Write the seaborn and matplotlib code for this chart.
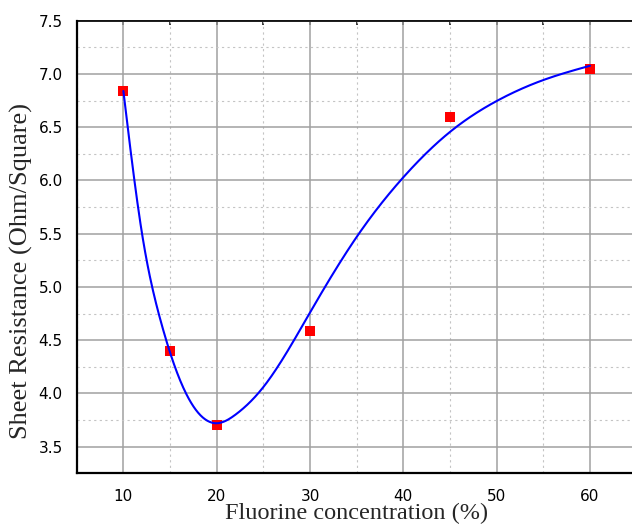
import numpy as np
import pandas as pd
import matplotlib
matplotlib.use("Agg")
import matplotlib.pyplot as plt
import seaborn as sns
from matplotlib.ticker import MultipleLocator, FormatStrFormatter, NullLocator

# ---- data ----
conc = [10, 15, 20, 30, 45, 60]
resistance = [6.84, 4.40, 3.70, 4.59, 6.60, 7.05]

# smooth fitted curve as drawn in the reference
curve_x = [10, 12, 14, 16, 18, 20, 22, 25, 30, 35, 40, 45, 50, 55, 60]
curve_y = [6.84, 5.50, 4.68, 4.14, 3.82, 3.72, 3.80, 4.06, 4.76, 5.47,
           6.03, 6.456, 6.746, 6.943, 7.077]

xlabel = "Fluorine concentration (%)"
ylabel = "Sheet Resistance (Ohm/Square)"


def natural_spline(x, y, xs):
    """Render a smooth line through the read curve samples."""
    x = np.asarray(x, float)
    y = np.asarray(y, float)
    n = len(x)
    h = np.diff(x)
    A = np.zeros((n, n))
    b = np.zeros(n)
    A[0, 0] = A[-1, -1] = 1.0
    for i in range(1, n - 1):
        A[i, i - 1] = h[i - 1] / 6
        A[i, i] = (h[i - 1] + h[i]) / 3
        A[i, i + 1] = h[i] / 6
        b[i] = (y[i + 1] - y[i]) / h[i] - (y[i] - y[i - 1]) / h[i - 1]
    m = np.linalg.solve(A, b)
    idx = np.clip(np.searchsorted(x, xs) - 1, 0, n - 2)
    x0, x1 = x[idx], x[idx + 1]
    hh = x1 - x0
    a = (x1 - xs) / hh
    bb = (xs - x0) / hh
    return (a * y[idx] + bb * y[idx + 1]
            + ((a ** 3 - a) * m[idx] + (bb ** 3 - bb) * m[idx + 1]) * hh ** 2 / 6)


xs = np.linspace(curve_x[0], curve_x[-1], 600)
line_df = pd.DataFrame({"x": xs, "y": natural_spline(curve_x, curve_y, xs)})
pts_df = pd.DataFrame({"conc": conc, "res": resistance})

sns.set_theme(style="white")
plt.rcParams["font.family"] = ["DejaVu Sans"]

fig = plt.figure(figsize=(6.32, 5.24), dpi=100)
ax = fig.add_axes([76.7 / 632, 1 - 473.3 / 524, 560 / 632, 452.6 / 524])

sns.scatterplot(data=pts_df, x="conc", y="res", marker="s", s=62,
                color="#ff0000", edgecolor="#ff0000", linewidth=0,
                ax=ax, zorder=3)
sns.lineplot(data=line_df, x="x", y="y", sort=False, estimator=None,
             color="#0000ff", linewidth=1.5, ax=ax, zorder=4)

ax.set_xlim(5, 65)
ax.set_ylim(3.25, 7.5)
ax.xaxis.set_major_locator(MultipleLocator(10))
ax.xaxis.set_minor_locator(MultipleLocator(5))
ax.yaxis.set_major_locator(MultipleLocator(0.5))
ax.yaxis.set_minor_locator(MultipleLocator(0.25))
ax.yaxis.set_major_formatter(FormatStrFormatter("%.1f"))

ax.grid(which="major", color="#a0a0a0", linewidth=1.1, linestyle="-")
ax.grid(which="minor", color="#c4c4c4", linewidth=0.8, linestyle=(0, (2, 3)))
ax.set_axisbelow(True)

ax.set_xlabel("")
ax.set_ylabel("")

ax.tick_params(axis="x", which="major", direction="out", length=4.3, width=1.1,
               pad=7.0, labelsize=11, colors="black", top=False)
ax.tick_params(axis="x", which="minor", direction="out", length=2.5, width=1.1,
               top=False)
ax.tick_params(axis="y", which="major", direction="out", length=5.8, width=1.1,
               pad=4.2, labelsize=11, colors="black", right=False)
ax.tick_params(axis="y", which="minor", direction="out", length=3.6, width=1.1,
               right=False)

for s in ["left", "bottom"]:
    ax.spines[s].set_linewidth(1.6)
    ax.spines[s].set_color("black")
for s in ["top", "right"]:
    ax.spines[s].set_linewidth(1.1)
    ax.spines[s].set_color("black")

# inward ticks on the mirrored sides
sec_top = ax.secondary_xaxis("top")
sec_top.xaxis.set_major_locator(MultipleLocator(10))
sec_top.xaxis.set_minor_locator(MultipleLocator(5))
sec_top.tick_params(which="both", direction="in", length=3.0, width=1.1,
                    labeltop=False, colors="black")
sec_top.spines["top"].set_linewidth(1.1)

sec_right = ax.secondary_yaxis("right")
sec_right.yaxis.set_major_locator(MultipleLocator(0.5))
sec_right.yaxis.set_minor_locator(NullLocator())
sec_right.tick_params(which="both", direction="in", length=3.0, width=1.1,
                      labelright=False, colors="black")

fig.text(357 / 632, 5.0 / 524, xlabel, ha="center", va="baseline",
         fontsize=17.5, family=["Liberation Serif", "DejaVu Serif"])
fig.text(21 / 632, 1 - 271 / 524, ylabel, ha="center", va="center",
         rotation=90, fontsize=19, family=["Liberation Serif", "DejaVu Serif"])

fig.savefig("out.png", dpi=100)
